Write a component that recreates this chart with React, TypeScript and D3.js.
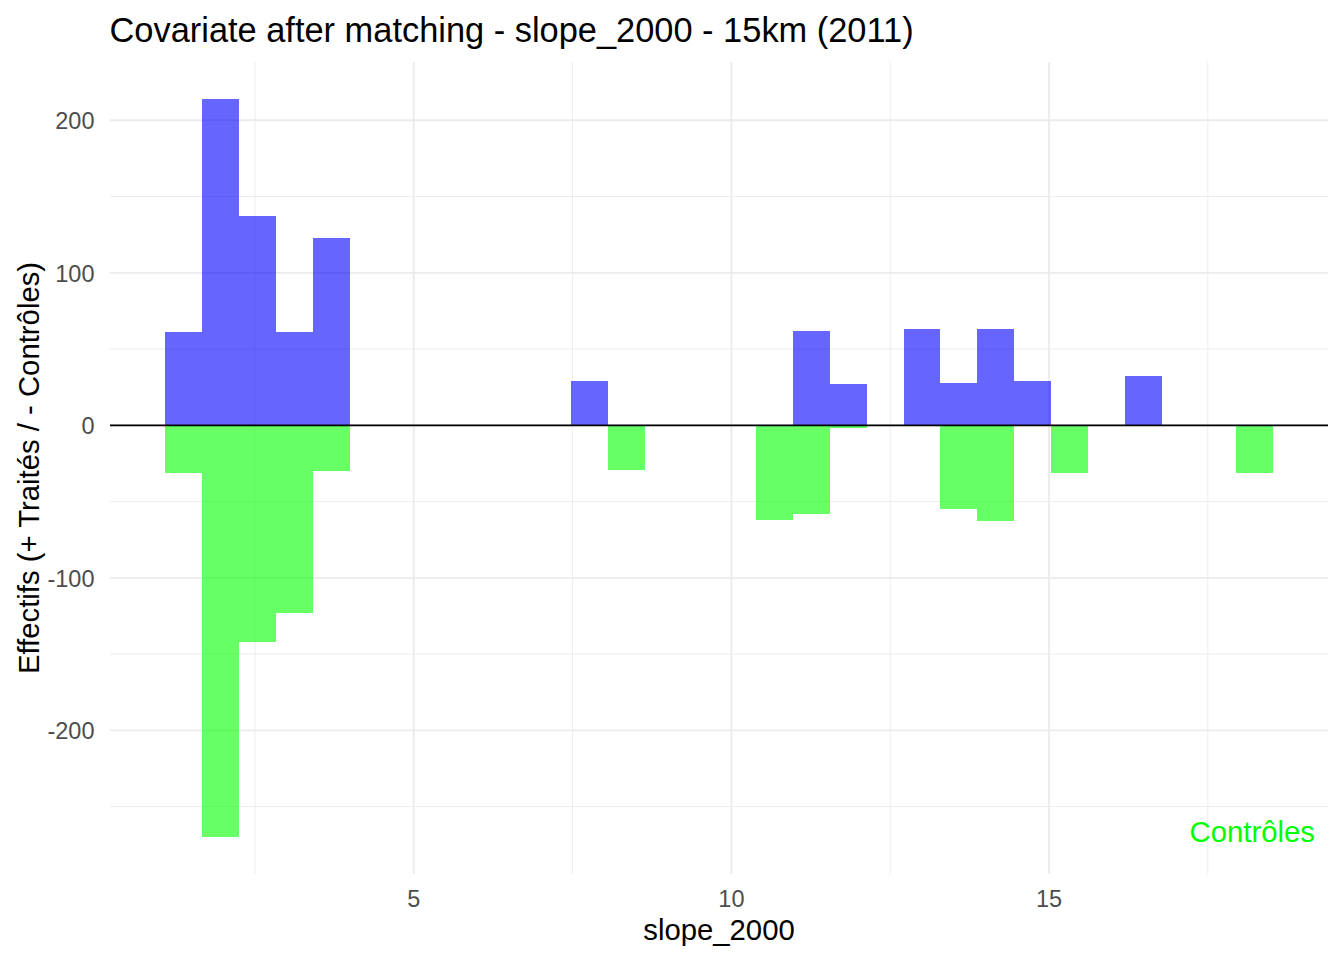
import React from "react";
import * as d3 from "d3";

// Histogram bins (slope_2000): 30 bins starting at binStart with width binWidth
const binStart = 1.09;
const binWidth = 0.581;
const treatedCounts = [61, 214, 137, 61, 123, 0, 0, 0, 0, 0, 0, 29, 0, 0, 0, 0, 0, 62, 27, 0, 63, 28, 63, 29, 0, 0, 32, 0, 0, 0];
const controlCounts = [31, 270, 142, 123, 30, 0, 0, 0, 0, 0, 0, 0, 29, 0, 0, 0, 62, 58, 2, 0, 0, 55, 63, 0, 31, 0, 0, 0, 0, 31];

const xTicks = [5, 10, 15];
const xMinorTicks = [2.5, 7.5, 12.5, 17.5];
const yTicks = [-200, -100, 0, 100, 200];
const yMinorTicks = [-250, -150, -50, 50, 150];

const title = "Covariate after matching - slope_2000 - 15km (2011)";
const xTitle = "slope_2000";
const yTitle = "Effectifs (+ Traités / - Contrôles)";
const controlLabel = "Contrôles";

const W = 1344;
const H = 960;
const panel = { left: 110, right: 1328, top: 62, bottom: 874 };
const FONT = "'Liberation Sans', Arial, Helvetica, sans-serif";

export default function App() {
  const nBins = treatedCounts.length;
  const xLo = binStart;
  const xHi = binStart + nBins * binWidth;
  const xPad = (xHi - xLo) * 0.05;
  const yLo = -d3.max(controlCounts)!;
  const yHi = d3.max(treatedCounts)!;
  const yPad = (yHi - yLo) * 0.05;

  const xs = d3.scaleLinear().domain([xLo - xPad, xHi + xPad]).range([panel.left, panel.right]);
  const ys = d3.scaleLinear().domain([yLo - yPad, yHi + yPad]).range([panel.bottom, panel.top]);

  const gridColor = "#EBEBEB";

  const bars: React.ReactNode[] = [];
  for (let i = 0; i < nBins; i++) {
    const x0 = xs(binStart + i * binWidth);
    const x1 = xs(binStart + (i + 1) * binWidth);
    const t = treatedCounts[i];
    const c = controlCounts[i];
    if (t > 0) {
      bars.push(
        <rect key={"t" + i} x={x0} width={x1 - x0} y={ys(t)} height={ys(0) - ys(t)} fill="#0000FF" fillOpacity={0.6} shapeRendering="crispEdges" />
      );
    }
    if (c > 0) {
      bars.push(
        <rect key={"c" + i} x={x0} width={x1 - x0} y={ys(0)} height={ys(-c) - ys(0)} fill="#00FF00" fillOpacity={0.6} shapeRendering="crispEdges" />
      );
    }
  }

  return (
    <svg width={W} height={H} style={{ position: "absolute", left: 0, top: 0, background: "#fff" }} fontFamily={FONT}>
      <rect x={0} y={0} width={W} height={H} fill="#fff" />
      {/* minor grid */}
      {yMinorTicks.map((v) => (
        <line key={"ym" + v} x1={panel.left} x2={panel.right} y1={ys(v)} y2={ys(v)} stroke={gridColor} strokeWidth={0.9} />
      ))}
      {xMinorTicks.map((v) => (
        <line key={"xm" + v} x1={xs(v)} x2={xs(v)} y1={panel.top} y2={panel.bottom} stroke={gridColor} strokeWidth={0.9} />
      ))}
      {/* major grid */}
      {yTicks.map((v) => (
        <line key={"yM" + v} x1={panel.left} x2={panel.right} y1={ys(v)} y2={ys(v)} stroke={gridColor} strokeWidth={1.8} />
      ))}
      {xTicks.map((v) => (
        <line key={"xM" + v} x1={xs(v)} x2={xs(v)} y1={panel.top} y2={panel.bottom} stroke={gridColor} strokeWidth={1.8} />
      ))}

      {bars}

      {/* zero line */}
      <line x1={panel.left} x2={panel.right} y1={ys(0)} y2={ys(0)} stroke="#000" strokeWidth={1.7} />

      {/* annotation */}
      <text x={panel.right - 13} y={panel.bottom - 32} textAnchor="end" fontSize={29.3} fill="#00FF00">
        {controlLabel}
      </text>

      {/* tick labels */}
      {yTicks.map((v) => (
        <text key={"yl" + v} x={94.5} y={ys(v)} dy="0.38em" textAnchor="end" fontSize={23.5} fill="#4D4D4D">
          {v}
        </text>
      ))}
      {xTicks.map((v) => (
        <text key={"xl" + v} x={xs(v)} y={907} textAnchor="middle" fontSize={23.5} fill="#4D4D4D">
          {v}
        </text>
      ))}

      {/* axis titles */}
      <text x={(panel.left + panel.right) / 2} y={940} textAnchor="middle" fontSize={29.3} fill="#000">
        {xTitle}
      </text>
      <text
        transform={`translate(39,${(panel.top + panel.bottom) / 2}) rotate(-90)`}
        textAnchor="middle"
        fontSize={29.3}
        fill="#000"
      >
        {yTitle}
      </text>

      {/* title */}
      <text x={109.5} y={42} fontSize={34.4} fill="#000">
        {title}
      </text>
    </svg>
  );
}
